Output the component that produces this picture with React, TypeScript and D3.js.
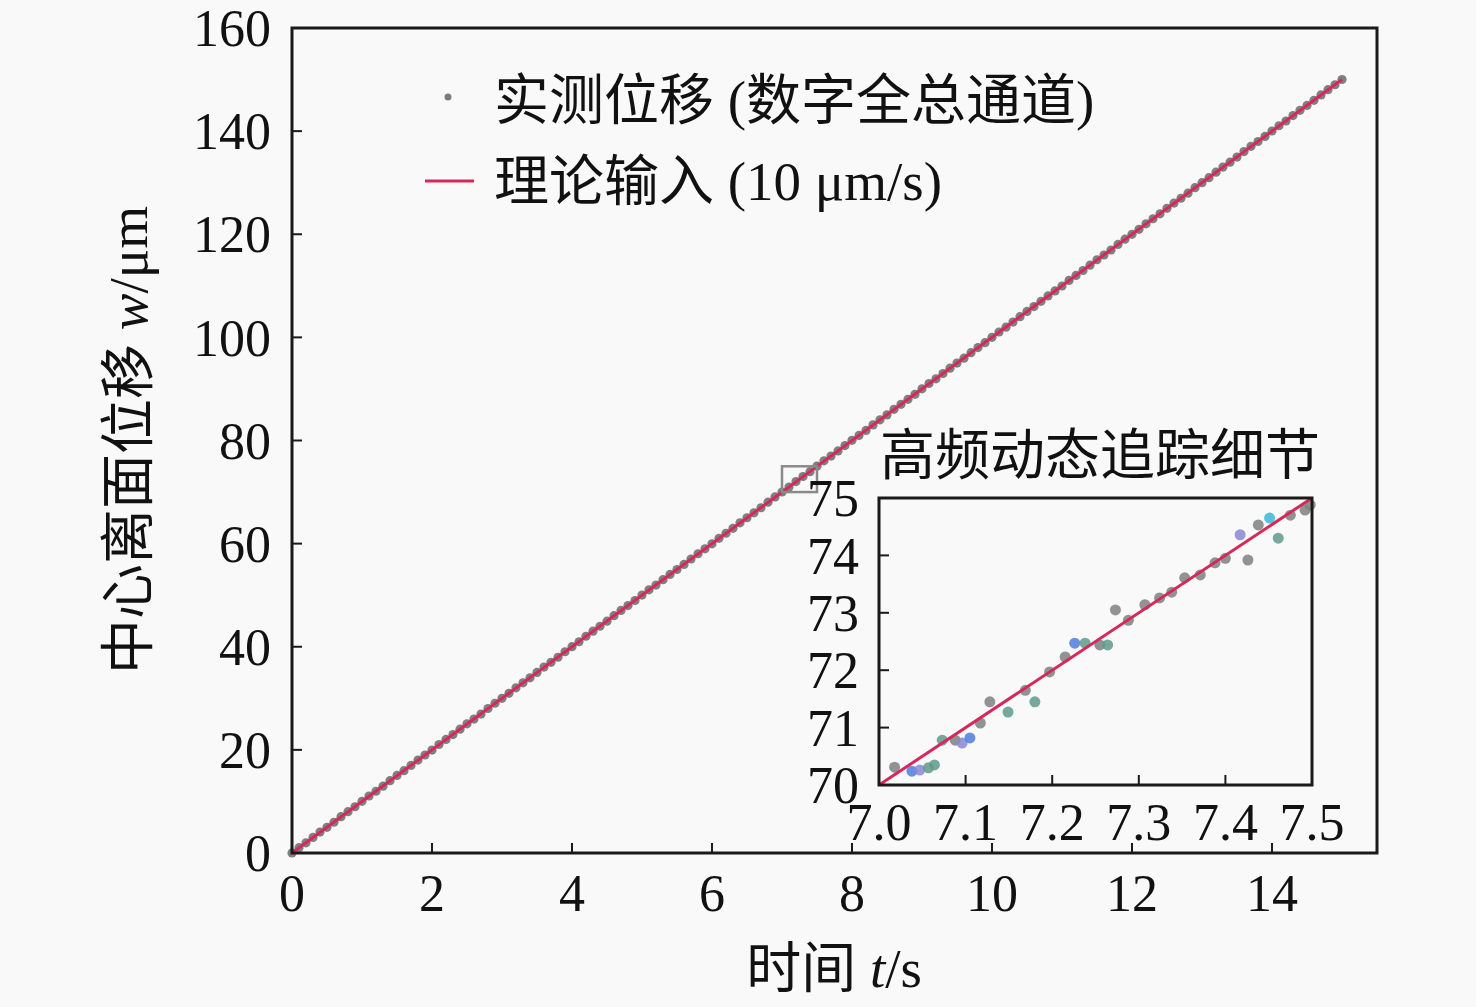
import { useEffect, useRef } from "react";
import * as d3 from "d3";

// Measured displacement, full digital channel (main plot)
const mainT = [
  0, 0.1, 0.2, 0.3, 0.4, 0.5, 0.6, 0.7, 0.8, 0.9, 1, 1.1, 1.2, 1.3, 1.4, 1.5, 1.6, 1.7, 1.8, 1.9,
  2, 2.1, 2.2, 2.3, 2.4, 2.5, 2.6, 2.7, 2.8, 2.9, 3, 3.1, 3.2, 3.3, 3.4, 3.5, 3.6, 3.7, 3.8, 3.9,
  4, 4.1, 4.2, 4.3, 4.4, 4.5, 4.6, 4.7, 4.8, 4.9, 5, 5.1, 5.2, 5.3, 5.4, 5.5, 5.6, 5.7, 5.8, 5.9,
  6, 6.1, 6.2, 6.3, 6.4, 6.5, 6.6, 6.7, 6.8, 6.9, 7, 7.1, 7.2, 7.3, 7.4, 7.5, 7.6, 7.7, 7.8, 7.9,
  8, 8.1, 8.2, 8.3, 8.4, 8.5, 8.6, 8.7, 8.8, 8.9, 9, 9.1, 9.2, 9.3, 9.4, 9.5, 9.6, 9.7, 9.8, 9.9,
  10, 10.1, 10.2, 10.3, 10.4, 10.5, 10.6, 10.7, 10.8, 10.9, 11, 11.1, 11.2, 11.3, 11.4, 11.5, 11.6, 11.7, 11.8, 11.9,
  12, 12.1, 12.2, 12.3, 12.4, 12.5, 12.6, 12.7, 12.8, 12.9, 13, 13.1, 13.2, 13.3, 13.4, 13.5, 13.6, 13.7, 13.8, 13.9,
  14, 14.1, 14.2, 14.3, 14.4, 14.5, 14.6, 14.7, 14.8, 14.9, 15,
];
const mainW = [
  0.02, 1.03, 1.97, 3.02, 4.05, 4.98, 5.96, 7.04, 8.01, 8.97, 10.03, 11.05, 11.98, 12.96, 14.02, 15.04, 15.97, 16.99, 18.03, 19.01,
  19.96, 21.04, 22.02, 22.97, 24.01, 25.05, 25.98, 26.95, 28.02, 29.04, 29.99, 30.96, 32.03, 33.01, 33.97, 35.02, 36.05, 36.98, 37.96, 39.03,
  40.01, 40.97, 42.04, 43.02, 43.98, 44.96, 46.03, 47.05, 47.99, 48.97, 50.02, 51.04, 51.96, 53.01, 54.03, 54.98, 55.97, 57.02, 58.04, 58.99,
  59.96, 61.03, 62.01, 62.97, 64.04, 65.02, 65.98, 66.96, 68.03, 69.05, 70.01, 70.97, 72.04, 73.02, 73.96, 75.03, 76.05, 76.98, 77.97, 79.02,
  80.04, 80.99, 81.96, 83.03, 84.01, 84.97, 86.04, 87.02, 87.98, 88.96, 90.03, 91.05, 91.97, 92.99, 94.03, 95.01, 95.96, 97.04, 98.02, 98.97,
  100.01, 101.04, 101.98, 102.96, 104.02, 105.04, 105.97, 106.99, 108.03, 109.01, 109.96, 111.04, 112.02, 112.97, 114.01, 115.05, 115.98, 116.95, 118.02, 119.04,
  119.99, 120.96, 122.03, 123.01, 123.97, 125.02, 126.05, 126.98, 127.96, 129.03, 130.01, 130.97, 132.04, 133.02, 133.98, 134.96, 136.03, 137.05, 137.99, 138.97,
  140.02, 141.04, 141.96, 143.01, 144.03, 144.98, 145.97, 147.02, 148.04, 148.99, 150.01,
];

// Theoretical input (10 um/s)
const theoryT = [0, 15];
const theoryW = [0, 150];

// Inset: high-frequency tracking detail
const insetT = [
  7.018, 7.038, 7.047, 7.057, 7.064, 7.073, 7.088, 7.096, 7.105, 7.117, 7.128, 7.149, 7.169, 7.18, 7.197,
  7.215, 7.226, 7.238, 7.255, 7.264, 7.273, 7.288, 7.307, 7.324, 7.338, 7.353, 7.371, 7.388, 7.4, 7.417,
  7.426, 7.438, 7.451, 7.461, 7.475, 7.492, 7.498,
];
const insetW = [
  70.31, 70.24, 70.26, 70.3, 70.35, 70.78, 70.78, 70.73, 70.82, 71.08, 71.45, 71.27, 71.65, 71.45, 71.97,
  72.23, 72.47, 72.47, 72.44, 72.44, 73.05, 72.87, 73.14, 73.26, 73.36, 73.61, 73.66, 73.87, 73.95, 74.36,
  73.92, 74.53, 74.65, 74.3, 74.7, 74.79, 74.88,
];
const insetColor = [
  "g", "b", "p", "t", "t", "t", "g", "p", "b", "g", "g", "t", "g", "t", "g",
  "g", "b", "t", "g", "t", "g", "g", "g", "g", "g", "g", "g", "g", "g", "p",
  "g", "g", "c", "t", "g", "g", "g",
];
const insetTheoryT = [7, 7.5];
const insetTheoryW = [70, 75];

const xTicks = [0, 2, 4, 6, 8, 10, 12, 14];
const yTicks = [0, 20, 40, 60, 80, 100, 120, 140, 160];
const insetXTicks = [7.0, 7.1, 7.2, 7.3, 7.4, 7.5];
const insetYTicks = [70, 71, 72, 73, 74, 75];

const palette: Record<string, string> = {
  g: "#7c8280",
  t: "#5f9a8c",
  b: "#4f7de0",
  p: "#8a86d6",
  c: "#3fb6d6",
};

const FONT = "'Liberation Serif', 'Times New Roman', 'Noto Sans CJK SC', serif";
const BG = "#f9f9f9";
const RED = "#d6285a";
const TICK_FS = 52;
const LABEL_FS = 55;

export default function App() {
  const svgRef = useRef<SVGSVGElement | null>(null);

  useEffect(() => {
    if (!svgRef.current) return;
    const svg = d3.select(svgRef.current);
    svg.selectAll("*").remove();

    const width = 1476;
    const height = 1007;

    svg.append("rect").attr("width", width).attr("height", height).attr("fill", BG);

    // Main scales
    const x = d3.scaleLinear().domain([0, 15.5]).range([292, 1377]);
    const y = d3.scaleLinear().domain([0, 160]).range([853, 28]);

    const main = svg.append("g");

    // measured points
    main.selectAll("circle.pt")
      .data(mainT)
      .enter()
      .append("circle")
      .attr("class", "pt")
      .attr("cx", (d) => x(d))
      .attr("cy", (_d, i) => y(mainW[i]))
      .attr("r", 4.6)
      .attr("fill", "#6f7472")
      .attr("opacity", 0.9);

    // theory line
    const line = d3.line<number>()
      .x((d) => x(d))
      .y((_d, i) => y(theoryW[i]));
    main.append("path")
      .datum(theoryT)
      .attr("d", line)
      .attr("fill", "none")
      .attr("stroke", RED)
      .attr("stroke-width", 3);

    // zoom marker
    main.append("rect")
      .attr("x", x(insetTheoryT[0]))
      .attr("y", y(insetTheoryW[1]))
      .attr("width", x(insetTheoryT[1]) - x(insetTheoryT[0]))
      .attr("height", y(insetTheoryW[0]) - y(insetTheoryW[1]))
      .attr("fill", "none")
      .attr("stroke", "#8a8a8a")
      .attr("stroke-width", 2.5);

    // frame
    main.append("rect")
      .attr("x", 292)
      .attr("y", 28)
      .attr("width", 1377 - 292)
      .attr("height", 853 - 28)
      .attr("fill", "none")
      .attr("stroke", "#1a1a1a")
      .attr("stroke-width", 3);

    // x ticks
    xTicks.forEach((t) => {
      main.append("line")
        .attr("x1", x(t)).attr("x2", x(t))
        .attr("y1", 853).attr("y2", 843)
        .attr("stroke", "#1a1a1a").attr("stroke-width", 2);
      main.append("text")
        .attr("x", x(t)).attr("y", 893)
        .attr("dy", "0.35em")
        .attr("text-anchor", "middle")
        .attr("font-family", FONT)
        .attr("font-size", TICK_FS)
        .attr("fill", "#111")
        .text(t);
    });
    // y ticks
    yTicks.forEach((v) => {
      main.append("line")
        .attr("x1", 292).attr("x2", 302)
        .attr("y1", y(v)).attr("y2", y(v))
        .attr("stroke", "#1a1a1a").attr("stroke-width", 2);
      main.append("text")
        .attr("x", 271).attr("y", y(v))
        .attr("dy", "0.35em")
        .attr("text-anchor", "end")
        .attr("font-family", FONT)
        .attr("font-size", TICK_FS)
        .attr("fill", "#111")
        .text(v);
    });

    // axis labels
    const xl = main.append("text")
      .attr("x", 834).attr("y", 968)
      .attr("dy", "0.35em")
      .attr("text-anchor", "middle")
      .attr("font-family", FONT)
      .attr("font-size", LABEL_FS)
      .attr("fill", "#111");
    xl.append("tspan").text("时间 ");
    xl.append("tspan").attr("font-style", "italic").text("t");
    xl.append("tspan").text("/s");

    const yl = main.append("text")
      .attr("transform", "translate(128,440) rotate(-90)")
      .attr("dy", "0.35em")
      .attr("text-anchor", "middle")
      .attr("font-family", FONT)
      .attr("font-size", LABEL_FS)
      .attr("fill", "#111");
    yl.append("tspan").text("中心离面位移 ");
    yl.append("tspan").attr("font-style", "italic").text("w");
    yl.append("tspan").text("/μm");

    // legend
    const legend = svg.append("g");
    legend.append("circle").attr("cx", 448).attr("cy", 97).attr("r", 3.5).attr("fill", "#7c7c7c");
    legend.append("text")
      .attr("x", 494).attr("y", 100)
      .attr("dy", "0.35em")
      .attr("font-family", FONT)
      .attr("font-size", LABEL_FS)
      .attr("fill", "#111")
      .text("实测位移 (数字全总通道)");
    legend.append("line")
      .attr("x1", 425).attr("x2", 474)
      .attr("y1", 181).attr("y2", 181)
      .attr("stroke", RED).attr("stroke-width", 3);
    legend.append("text")
      .attr("x", 494).attr("y", 181)
      .attr("dy", "0.35em")
      .attr("font-family", FONT)
      .attr("font-size", LABEL_FS)
      .attr("fill", "#111")
      .text("理论输入 (10 μm/s)");

    // Inset
    const ix = d3.scaleLinear().domain([7, 7.5]).range([879, 1312]);
    const iy = d3.scaleLinear().domain([70, 75]).range([785, 498]);
    const inset = svg.append("g");

    inset.append("rect")
      .attr("x", 879).attr("y", 498)
      .attr("width", 1312 - 879).attr("height", 785 - 498)
      .attr("fill", BG);

    inset.selectAll("circle.ipt")
      .data(insetT)
      .enter()
      .append("circle")
      .attr("class", "ipt")
      .attr("cx", (d) => ix(d))
      .attr("cy", (_d, i) => iy(insetW[i]))
      .attr("r", 5.5)
      .attr("fill", (_d, i) => palette[insetColor[i]])
      .attr("opacity", 0.85);

    const iline = d3.line<number>()
      .x((d) => ix(d))
      .y((_d, i) => iy(insetTheoryW[i]));
    inset.append("path")
      .datum(insetTheoryT)
      .attr("d", iline)
      .attr("fill", "none")
      .attr("stroke", RED)
      .attr("stroke-width", 3);

    inset.append("rect")
      .attr("x", 879).attr("y", 498)
      .attr("width", 1312 - 879).attr("height", 785 - 498)
      .attr("fill", "none")
      .attr("stroke", "#1a1a1a")
      .attr("stroke-width", 3);

    insetXTicks.forEach((t) => {
      inset.append("line")
        .attr("x1", ix(t)).attr("x2", ix(t))
        .attr("y1", 785).attr("y2", 775)
        .attr("stroke", "#1a1a1a").attr("stroke-width", 2);
      inset.append("text")
        .attr("x", ix(t)).attr("y", 822)
        .attr("dy", "0.35em")
        .attr("text-anchor", "middle")
        .attr("font-family", FONT)
        .attr("font-size", TICK_FS)
        .attr("fill", "#111")
        .text(t.toFixed(1));
    });
    insetYTicks.forEach((v) => {
      inset.append("line")
        .attr("x1", 879).attr("x2", 889)
        .attr("y1", iy(v)).attr("y2", iy(v))
        .attr("stroke", "#1a1a1a").attr("stroke-width", 2);
      inset.append("text")
        .attr("x", 859).attr("y", iy(v))
        .attr("dy", "0.35em")
        .attr("text-anchor", "end")
        .attr("font-family", FONT)
        .attr("font-size", TICK_FS)
        .attr("fill", "#111")
        .text(v);
    });

    inset.append("text")
      .attr("x", 1100).attr("y", 455)
      .attr("dy", "0.35em")
      .attr("text-anchor", "middle")
      .attr("font-family", FONT)
      .attr("font-size", LABEL_FS)
      .attr("fill", "#111")
      .text("高频动态追踪细节");
  }, []);

  return (
    <svg
      ref={svgRef}
      width={1476}
      height={1007}
      style={{ position: "absolute", left: 0, top: 0, display: "block" }}
    />
  );
}
